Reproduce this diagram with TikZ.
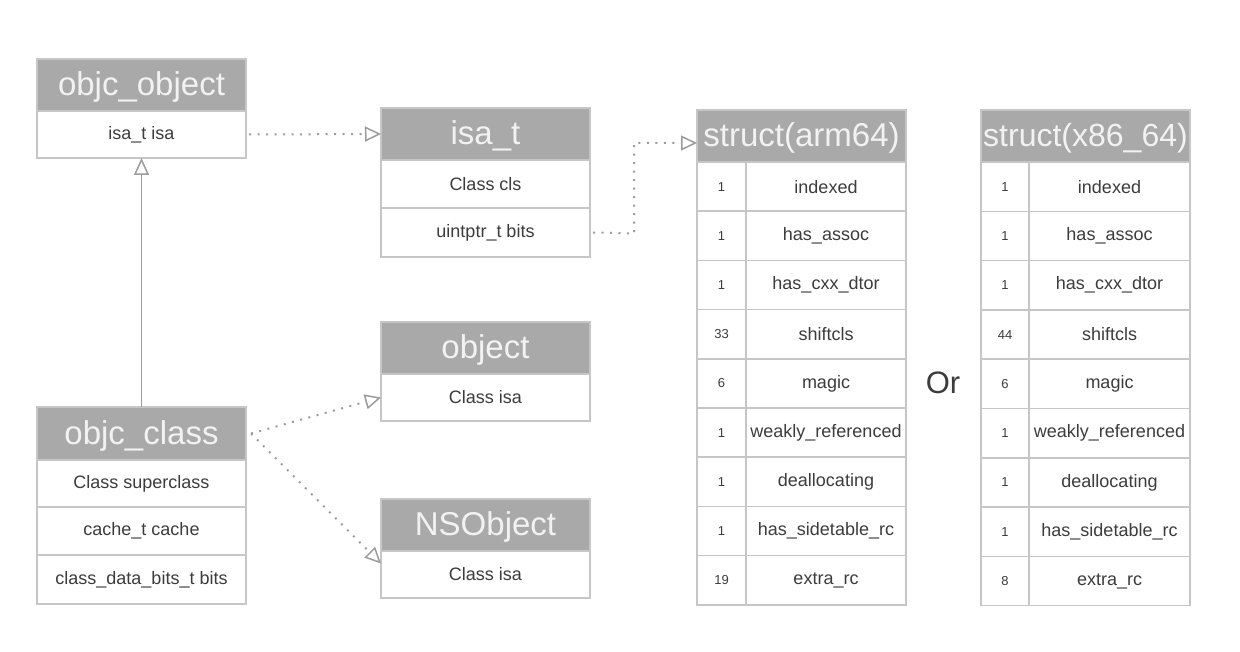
\documentclass[tikz,border=0pt]{standalone}
\usepackage{fontspec}
\setmainfont{Liberation Sans}
\usetikzlibrary{arrows.meta}
\definecolor{hdr}{HTML}{A9A9A9}
\definecolor{hdrtext}{HTML}{F2F2F2}
\definecolor{brd}{HTML}{C6C6C6}
\definecolor{txt}{HTML}{3C3C3C}
\definecolor{lnk}{HTML}{9C9C9C}
\tikzset{
  cell/.style={draw=brd, line width=1.5pt, fill=white, inner sep=0pt, outer sep=0pt,
    anchor=north west, text=txt, font=\fontsize{18}{20}\selectfont},
  hdrcell/.style={cell, fill=hdr, text=hdrtext, font=\fontsize{33}{36}\selectfont, text depth=2pt},
  numcell/.style={cell, font=\fontsize{13}{14}\selectfont},
  wide/.style={minimum width=209pt},
  link/.style={draw=lnk, line width=2pt, dash pattern=on 2pt off 6.5pt,
    -{Triangle[open, length=16pt, width=15pt, line width=1.5pt]}},
  inherit/.style={draw=lnk, line width=1.5pt,
    -{Triangle[open, length=17pt, width=15pt, line width=1.5pt]}},
}
\begin{document}
\begin{tikzpicture}[x=1pt,y=-1pt]
\useasboundingbox[fill=white] (0,0) rectangle (1240,652);

% objc_object
\node[hdrcell, wide, minimum height=52pt] (oo) at (37,59) {objc\_object};
\node[cell, wide, minimum height=47pt] (oor) at (37,111) {isa\_t isa};

% isa_t
\node[hdrcell, wide, minimum height=52pt] (it) at (381,108) {isa\_t};
\node[cell, wide, minimum height=48pt] (itr1) at (381,160) {Class cls};
\node[cell, wide, minimum height=49pt] (itr2) at (381,208) {uintptr\_t bits};

% object
\node[hdrcell, wide, minimum height=52pt] (ob) at (381,322) {object};
\node[cell, wide, minimum height=47pt] (obr) at (381,374) {Class isa};

% NSObject
\node[hdrcell, wide, minimum height=52pt] (ns) at (381,499) {NSObject};
\node[cell, wide, minimum height=47pt] (nsr) at (381,551) {Class isa};

% objc_class
\node[hdrcell, wide, minimum height=53pt] (oc) at (37,407) {objc\_class};
\node[cell, wide, minimum height=47pt] (ocr1) at (37,460) {Class superclass};
\node[cell, wide, minimum height=48pt] (ocr2) at (37,507) {cache\_t cache};
\node[cell, wide, minimum height=49pt] (ocr3) at (37,555) {class\_data\_bits\_t bits};

% struct(arm64)
\node[hdrcell, wide, minimum height=52pt] (arm) at (697,110) {struct(arm64)};
\foreach \v/\nm [count=\i from 0] in {1/indexed,1/has\_assoc,1/has\_cxx\_dtor,33/shiftcls,6/magic,1/weakly\_referenced,1/deallocating,1/has\_sidetable\_rc,19/extra\_rc}{
  \pgfmathsetmacro\yy{162+\i*49.2}
  \node[numcell, minimum width=49pt, minimum height=49.2pt] (armn\i) at (697,\yy) {\v};
  \node[cell, minimum width=160pt, minimum height=49.2pt] (arm\i) at (746,\yy) {\nm};
}

% struct(x86_64)
\node[hdrcell, wide, minimum height=52pt, font=\fontsize{32}{36}\selectfont] (x86) at (981,110) {struct(x86\_64)};
\foreach \v/\nm [count=\i from 0] in {1/indexed,1/has\_assoc,1/has\_cxx\_dtor,44/shiftcls,6/magic,1/weakly\_referenced,1/deallocating,1/has\_sidetable\_rc,8/extra\_rc}{
  \pgfmathsetmacro\yy{162+\i*49.3}
  \node[numcell, minimum width=48pt, minimum height=49.3pt] (x86n\i) at (981,\yy) {\v};
  \node[cell, minimum width=161pt, minimum height=49.3pt] (x86\i) at (1029,\yy) {\nm};
}

% Or
\node[text=txt, font=\fontsize{31}{34}\selectfont] (or) at (943,383) {Or};

% connectors
\draw[inherit] (oc.north) -- (oor.south);
\draw[link] ([xshift=3pt]oor.east) -- (it.west);
\coordinate (b1) at (634,233.5);
\coordinate (b2) at (634,143);
\draw[link] ([xshift=3pt]itr2.east) -- (b1) -- (b2) -- (arm.west |- b2);
\draw[link] ([xshift=5pt]oc.east) -- (obr.west);
\draw[link] ([xshift=5pt]oc.east) -- ([yshift=11pt]nsr.west);
\end{tikzpicture}
\end{document}
